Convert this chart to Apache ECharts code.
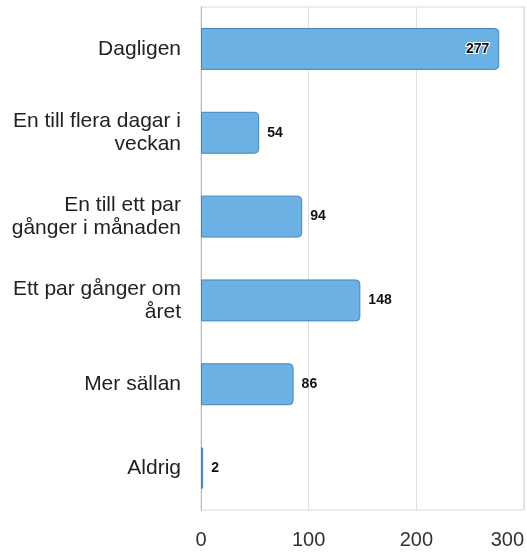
<!DOCTYPE html>
<html>
<head>
<meta charset="utf-8">
<script src="https://cdn.jsdelivr.net/npm/echarts@6/dist/echarts.min.js"></script>
<style>
  html, body { margin: 0; padding: 0; background: #fff; }
  #chart { width: 527px; height: 553px; }
</style>
</head>
<body>
<div id="chart"></div>
<script>
// kategorier, uppifrån och ned
var categories = [
    "Dagligen",
    "En till flera dagar i\nveckan",
    "En till ett par\ngånger i månaden",
    "Ett par gånger om\nåret",
    "Mer sällan",
    "Aldrig"
];
var values = [277, 54, 94, 148, 86, 2];
var xTicks = [0, 100, 200, 300];

var myChart = echarts.init(document.getElementById("chart"), null, { renderer: "canvas" });

var option = {
    animation: false,
    grid: {
        left: 201, right: 3, top: 7, bottom: 43,
        outerBoundsMode: "none",
        containLabel: false,
        show: true, borderColor: "#d9d9d9", borderWidth: 1
    },
    xAxis: {
        type: "value",
        min: xTicks[0],
        max: xTicks[xTicks.length - 1],
        interval: 100,
        axisLine: { show: false },
        axisTick: { show: false },
        splitLine: { lineStyle: { color: "#dedede" } },
        axisLabel: {
            color: "#333", fontSize: 20, fontFamily: "Liberation Sans, Arial",
            margin: 20, showMinLabel: true, showMaxLabel: true,
            alignMaxLabel: "right",
            formatter: function (v) { return xTicks.indexOf(v) >= 0 ? String(v) : ""; }
        }
    },
    yAxis: {
        type: "category",
        inverse: true,
        data: categories,
        axisLine: { show: true, lineStyle: { color: "#bbb" } },
        axisTick: { show: false },
        axisLabel: {
            color: "#222", fontSize: 21, fontFamily: "Liberation Sans, Arial",
            margin: 20, lineHeight: 23, align: "right",
            padding: [4, 0, 0, 0]
        }
    },
    series: [{
        type: "bar",
        data: values.map(function (v, i) {
            // stapeln 277 får sin etikett inuti
            if (i === 0) {
                return { value: v, label: { position: "insideRight", textBorderColor: "#fff", textBorderWidth: 2, offset: [-2, 0] } };
            }
            return v;
        }),
        barWidth: "50%",
        itemStyle: {
            color: "#6cb1e4",
            borderColor: "#3f86c4",
            borderWidth: 1,
            borderRadius: [0, 4, 4, 0]
        },
        label: {
            show: true,
            position: "right",
            distance: 8,
            color: "#111",
            fontWeight: "bold",
            fontSize: 14,
            fontFamily: "Liberation Sans, Arial"
        }
    }]
};

myChart.setOption(option);
</script>
</body>
</html>
